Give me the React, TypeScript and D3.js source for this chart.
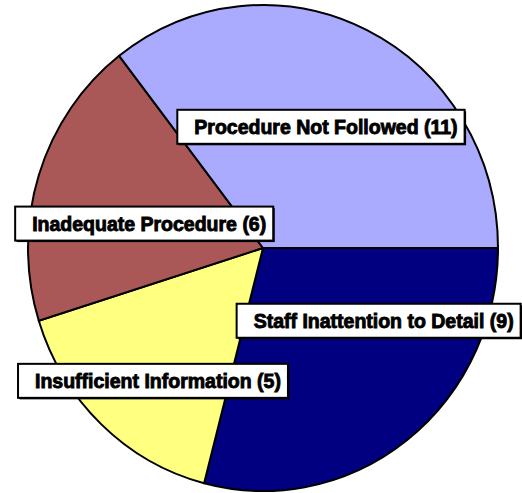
import { useEffect, useRef } from 'react';
import * as d3 from 'd3';

const categories = [
    'Staff Inattention to Detail',
    'Insufficient Information',
    'Inadequate Procedure',
    'Procedure Not Followed',
];
const counts = [9, 5, 6, 11];
const colors = ['#000080', '#FFFF80', '#AA5757', '#AAAAFF'];
// manual label nudges (labels were dragged in the original)
const labelNudge: [number, number][] = [
    [33, -34],
    [-17, 35],
    [10, 16],
    [-1.5, 0],
];

type Slice = { name: string; value: number; color: string; nudge: [number, number] };

const App: React.FC = () => {
    const svgRef = useRef<SVGSVGElement | null>(null);

    useEffect(() => {
        if (!svgRef.current) return;
        const svg = d3.select(svgRef.current);
        svg.selectAll('*').remove();

        const width = 522;
        const height = 493;
        const cx = 263;
        const cy = 248;
        const rx = 235;
        const ry = 243;

        const data: Slice[] = categories.map((name, i) => ({
            name,
            value: counts[i],
            color: colors[i],
            nudge: labelNudge[i],
        }));

        const pie = d3
            .pie<Slice>()
            .sort(null)
            .value((d) => d.value)
            .startAngle(Math.PI / 2)
            .endAngle(Math.PI / 2 + 2 * Math.PI);

        const arcs = pie(data);
        const arc = d3.arc<d3.PieArcDatum<Slice>>().innerRadius(0).outerRadius(rx);
        const labelArc = d3.arc<d3.PieArcDatum<Slice>>().innerRadius(135).outerRadius(135);

        svg.attr('width', width).attr('height', height);

        const g = svg
            .append('g')
            .attr('transform', `translate(${cx},${cy}) scale(1,${ry / rx})`);

        g.selectAll('path')
            .data(arcs)
            .join('path')
            .attr('d', arc)
            .attr('fill', (d) => d.data.color)
            .attr('stroke', '#000')
            .attr('stroke-width', 2)
            .attr('stroke-linejoin', 'round')
            .attr('vector-effect', 'non-scaling-stroke');

        // Labels
        const labels = svg.append('g');
        arcs.forEach((d) => {
            const [lx, ly] = labelArc.centroid(d);
            const x = cx + lx + d.data.nudge[0];
            const y = cy + ly + d.data.nudge[1];
            const lg = labels.append('g');
            const rect = lg.append('rect');
            const shadow = lg.insert('rect', 'rect');
            const text = lg
                .append('text')
                .attr('font-family', 'Liberation Sans, Arial, sans-serif')
                .attr('font-weight', 'bold')
                .attr('font-size', 19.5)
                .attr('fill', '#000')
                .attr('stroke', '#000')
                .attr('stroke-width', 0.9)
                .text(`${d.data.name} (${d.data.value})`);
            const tw = (text.node() as SVGTextElement).getComputedTextLength();
            const bw = tw + 24;
            const bh = 34;
            const bx = x - bw / 2;
            const by = y - bh / 2;
            shadow
                .attr('x', bx + 1.5)
                .attr('y', by + 1.5)
                .attr('width', bw)
                .attr('height', bh)
                .attr('fill', '#000');
            rect
                .attr('x', bx)
                .attr('y', by)
                .attr('width', bw)
                .attr('height', bh)
                .attr('fill', '#fff')
                .attr('stroke', '#000')
                .attr('stroke-width', 2);
            text.attr('x', bx + 17).attr('y', y + 7.5);
        });
    }, []);

    return <svg ref={svgRef} width={522} height={493} style={{ position: 'absolute', left: 0, top: 0 }} />;
};

export default App;
